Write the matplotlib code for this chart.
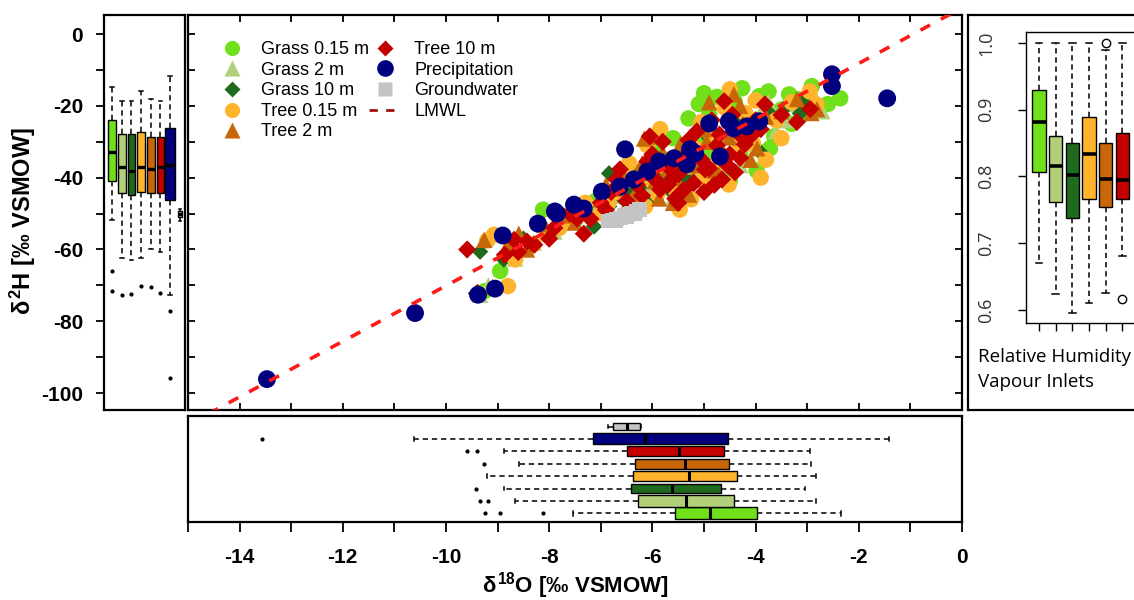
import matplotlib
matplotlib.use("Agg")
import matplotlib.pyplot as plt
from matplotlib.lines import Line2D
import numpy as np

plt.rcParams['font.family'] = ['Liberation Sans', 'DejaVu Sans']
plt.rcParams['mathtext.fontset'] = 'custom'
plt.rcParams['mathtext.rm'] = 'Liberation Sans:bold'
plt.rcParams['mathtext.it'] = 'Liberation Sans:bold'
plt.rcParams['mathtext.bf'] = 'Liberation Sans:bold'

# ---------------- data ----------------
series_names = ["Grass 0.15 m", "Grass 2 m", "Grass 10 m", "Tree 0.15 m",
                "Tree 2 m", "Tree 10 m", "Precipitation", "Groundwater"]
series_colors = ["#6fe01a", "#b2cf7a", "#1e6b1e", "#ffb42e",
                 "#c8660a", "#c40000", "#00007f", "#c4c4c4"]
series_markers = ['o', '^', 'D', 'o', '^', 'D', 'o', 's']
series_sizes = [140, 140, 70, 140, 140, 85, 165, 110]

grass015_x = [-9.25, -8.95, -8.12, -7.5, -7.1, -6.6, -6.4, -6.2, -5.95, -5.8, -5.6, -5.57, -5.4,
              -5.35, -5.3, -5.2, -5.1, -5.05, -5.0, -4.95, -4.9, -4.88, -4.75, -4.75, -4.6, -4.5,
              -4.45, -4.4, -4.3, -4.26, -4.2, -4.1, -3.98, -3.93, -3.85, -3.75, -3.72, -3.64,
              -3.5, -3.35, -3.3, -3.16, -3.1, -2.91, -2.6, -2.36]
grass015_y = [-71.6, -66.0, -48.9, -51.9, -46.5, -44.0, -47.0, -40.5, -31.8, -42.8, -29.0, -37.5, -40.9,
              -44.5, -23.5, -35.0, -19.5, -30.0, -16.5, -39.2, -22.5, -32.8, -28.5, -17.5, -36.0, -41.0,
              -20.5, -19.0, -33.5, -15.1, -23.5, -26.0, -38.0, -17.3, -33.0, -16.0, -31.8, -28.5,
              -21.0, -16.8, -25.0, -18.2, -22.5, -14.5, -19.5, -17.9]

grass2_x = [-9.34, -9.18, -8.66, -8.3, -7.9, -7.6, -7.2, -6.9, -6.8, -6.6, -6.4, -6.28, -6.1, -6.0,
            -5.9, -5.7, -5.6, -5.55, -5.4, -5.3, -5.15, -5.0, -4.9, -4.85, -4.7, -4.55, -4.42,
            -4.3, -4.3, -4.1, -3.9, -3.75, -3.6, -3.4, -3.3, -3.0, -2.82, -2.71]
grass2_y = [-72.6, -70.0, -62.5, -58.0, -55.0, -50.5, -49.0, -47.5, -45.0, -44.5, -46.0, -42.0, -44.2,
            -36.5, -40.0, -38.5, -45.5, -42.5, -36.9, -33.0, -39.0, -35.0, -41.5, -30.0, -37.0, -27.9,
            -32.5, -25.0, -36.5, -30.5, -22.0, -19.0, -27.0, -24.0, -19.5, -21.0, -18.6, -21.5]

grass10_x = [-9.42, -9.34, -8.88, -8.5, -8.1, -7.6, -7.13, -6.84, -6.84, -6.6, -6.42, -6.3, -6.2,
             -6.0, -5.85, -5.7, -5.62, -5.5, -5.45, -5.3, -5.1, -4.95, -4.9, -4.8, -4.67, -4.5,
             -4.4, -4.3, -4.0, -3.9, -3.7, -3.4, -3.14, -3.04]
grass10_y = [-72.3, -60.6, -62.8, -57.0, -54.0, -50.0, -53.6, -38.8, -48.0, -45.5, -44.7, -38.5, -42.0,
             -46.0, -40.0, -43.0, -38.1, -46.0, -36.0, -40.5, -34.0, -37.5, -29.0, -30.0, -35.0, -27.9,
             -23.5, -31.0, -25.0, -33.0, -22.5, -20.0, -22.1, -18.6]

tree015_x = [-9.2, -9.07, -8.8, -8.66, -8.3, -8.04, -7.8, -7.65, -7.3, -7.0, -6.85, -6.7, -6.55,
             -6.45, -6.3, -6.14, -6.1, -6.0, -5.9, -5.85, -5.7, -5.6, -5.55, -5.47, -5.3, -5.25,
             -5.15, -5.05, -5.0, -4.85, -4.8, -4.7, -4.6, -4.52, -4.5, -4.37, -4.3, -4.2, -4.05,
             -4.0, -3.9, -3.8, -3.6, -3.5, -3.3, -2.95, -2.82]
tree015_y = [-57.5, -55.9, -70.2, -62.8, -58.5, -55.9, -54.0, -52.2, -47.0, -50.0, -47.0, -44.0, -40.0,
             -36.0, -46.0, -48.0, -31.0, -41.0, -44.5, -26.5, -38.0, -34.5, -43.5, -48.9, -36.9, -46.0,
             -32.0, -24.5, -40.0, -29.0, -37.0, -34.5, -20.5, -41.9, -15.4, -27.2, -31.5, -22.0, -30.5,
             -18.5, -40.0, -35.0, -24.0, -29.0, -19.0, -16.0, -19.6]

tree2_x = [-9.26, -9.1, -8.8, -8.59, -8.43, -8.1, -7.7, -7.5, -7.35, -7.0, -6.9, -6.7, -6.6, -6.5,
           -6.33, -6.2, -6.16, -6.07, -5.95, -5.87, -5.8, -5.7, -5.6, -5.55, -5.45, -5.37, -5.29,
           -5.2, -5.1, -5.0, -4.95, -4.9, -4.8, -4.71, -4.6, -4.51, -4.42, -4.3, -4.25, -4.1,
           -3.97, -3.8, -3.5, -3.2, -2.92, -2.81]
tree2_y = [-57.3, -70.4, -58.5, -55.6, -60.0, -53.0, -50.5, -52.5, -49.5, -46.0, -42.0, -43.0, -38.5,
           -47.5, -44.4, -36.0, -29.1, -28.5, -41.0, -45.8, -33.0, -37.5, -47.0, -40.0, -30.5, -34.0,
           -44.7, -40.5, -36.5, -26.5, -30.0, -19.0, -38.0, -39.1, -33.5, -28.8, -16.8, -20.0, -25.0,
           -35.0, -31.8, -23.0, -21.5, -18.1, -22.0, -20.9]

tree10_x = [-9.59, -9.39, -8.86, -8.68, -8.6, -8.43, -8.29, -8.0, -7.9, -7.6, -7.46, -7.33, -7.2,
            -7.0, -6.9, -6.8, -6.7, -6.63, -6.5, -6.3, -6.2, -6.1, -6.05, -6.0, -5.95, -5.85,
            -5.8, -5.7, -5.7, -5.6, -5.56, -5.5, -5.49, -5.4, -5.3, -5.3, -5.2, -5.14, -5.05,
            -5.0, -4.98, -4.9, -4.85, -4.8, -4.75, -4.7, -4.65, -4.61, -4.55, -4.5, -4.45, -4.4,
            -4.32, -4.3, -4.21, -4.1, -4.0, -3.9, -3.82, -3.5, -3.2, -2.94]
tree10_y = [-60.0, -72.1, -61.5, -57.3, -60.7, -57.8, -58.7, -57.0, -54.0, -50.0, -51.4, -55.6, -51.5,
            -47.0, -49.0, -44.0, -40.5, -37.7, -46.5, -42.0, -45.0, -35.5, -28.5, -33.5, -40.5, -43.3,
            -30.0, -36.9, -42.0, -40.0, -45.8, -47.0, -39.0, -43.5, -33.0, -29.5, -41.5, -27.1, -35.0,
            -44.0, -37.7, -37.4, -24.0, -42.0, -31.0, -28.0, -40.5, -18.7, -36.5, -33.5, -22.5, -38.5,
            -27.9, -34.5, -30.7, -28.5, -24.0, -26.5, -19.6, -22.5, -24.5, -20.9]

precip_x = [-13.47, -10.60, -9.38, -9.05, -8.90, -8.22, -7.89, -7.85, -7.52, -7.33, -6.98, -6.63,
            -6.53, -6.36, -6.10, -5.87, -5.58, -5.33, -5.27, -5.23, -5.17, -4.90, -4.69, -4.52,
            -4.42, -4.17, -3.93, -2.52, -2.52, -1.45]
precip_y = [-96.1, -77.7, -72.6, -70.9, -56.1, -52.8, -49.4, -50.0, -47.5, -48.6, -43.9, -42.5,
            -32.1, -40.5, -38.3, -35.5, -34.6, -36.3, -32.1, -32.7, -33.2, -24.9, -34.1, -24.3,
            -26.3, -25.7, -24.3, -11.2, -14.5, -17.9]

ground_x = [-6.86, -6.78, -6.70, -6.62, -6.55, -6.48, -6.40, -6.32, -6.25, -6.72, -6.50, -6.35]
ground_y = [-52.1, -51.8, -51.5, -51.2, -50.6, -50.2, -49.8, -49.3, -48.8, -52.0, -51.0, -50.0]

lmwl_slope = 7.74
lmwl_intercept = 7.3

# d2H marginal box statistics (left panel)
H_whislo = [-51.9, -62.5, -62.8, -62.5, -60.0, -60.7, -72.6, -52.1]
H_q1 = [-40.9, -44.2, -44.7, -44.0, -44.4, -44.4, -46.2, -51.0]
H_med = [-32.8, -36.9, -38.1, -36.9, -37.5, -36.9, -36.5, -50.0]
H_q3 = [-23.9, -27.9, -27.9, -27.2, -28.8, -28.8, -26.2, -49.2]
H_whishi = [-14.7, -18.6, -18.6, -16.0, -18.1, -18.6, -11.6, -48.6]
H_fliers = [[-66.0, -71.6], [-72.6], [-72.3], [-70.2], [-70.4], [-72.1], [-77.2, -95.8], []]

# d18O marginal box statistics (bottom panel)
O_whislo = [-7.53, -8.66, -8.88, -9.20, -8.59, -8.88, -10.62, -6.86]
O_q1 = [-5.57, -6.28, -6.42, -6.37, -6.33, -6.50, -7.16, -6.76]
O_med = [-4.88, -5.34, -5.62, -5.30, -5.37, -5.49, -6.14, -6.50]
O_q3 = [-3.98, -4.42, -4.67, -4.37, -4.51, -4.61, -4.54, -6.25]
O_whishi = [-2.35, -2.82, -3.04, -2.82, -2.92, -2.94, -1.42, -6.23]
O_fliers = [[-9.25, -8.95, -8.12], [-9.34, -9.18], [-9.42], [], [-9.26], [-9.59, -9.39], [-13.56], []]

# relative humidity at vapour inlets (right panel, six inlets)
RH_whislo = [0.670, 0.624, 0.595, 0.611, 0.625, 0.681]
RH_q1 = [0.806, 0.762, 0.738, 0.766, 0.754, 0.766]
RH_med = [0.881, 0.816, 0.802, 0.833, 0.796, 0.795]
RH_q3 = [0.929, 0.860, 0.850, 0.889, 0.850, 0.865]
RH_whishi = [1.0, 1.0, 1.0, 1.0, 0.989, 1.0]
RH_fliers = [[], [], [], [], [1.0], [0.617]]

H_ticks = [0, -20, -40, -60, -80, -100]
O_ticks = [-14, -12, -10, -8, -6, -4, -2, 0]
RH_ticks = [0.6, 0.7, 0.8, 0.9, 1.0]

# ---------------- figure ----------------
W, H = 1134, 600
fig = plt.figure(figsize=(W / 100, H / 100), dpi=100)


def add_px(x0, y0, x1, y1):
    return fig.add_axes([x0 / W, 1 - y1 / H, (x1 - x0) / W, (y1 - y0) / H])


XLIM = (-15, 0)
YLIM = (-104.7, 5.3)
SPW = 1.6

# main scatter
ax = add_px(188, 15, 962, 410)
ax.set_xlim(*XLIM)
ax.set_ylim(*YLIM)
all_x = [grass015_x, grass2_x, grass10_x, tree015_x, tree2_x, tree10_x, precip_x, ground_x]
all_y = [grass015_y, grass2_y, grass10_y, tree015_y, tree2_y, tree10_y, precip_y, ground_y]
for i in range(8):
    ax.scatter(all_x[i], all_y[i], s=series_sizes[i], marker=series_markers[i],
               color=series_colors[i], edgecolors='none', zorder=2 + i)
lx = np.array(XLIM, dtype=float)
ax.plot(lx, lmwl_slope * lx + lmwl_intercept, color='#ff1a1a', lw=2.6,
        dashes=(3.0, 3.4), zorder=20)
ax.set_xticks(np.arange(-15, 1, 1))
ax.set_yticks(np.arange(-100, 1, 10))
ax.tick_params(direction='in', top=True, right=True, length=5, width=1.3,
               labelbottom=False, labelleft=False)
for s in ax.spines.values():
    s.set_linewidth(SPW)

handles = []
for i in range(6):
    handles.append(Line2D([], [], ls='none', marker=series_markers[i], color=series_colors[i],
                          ms=(series_sizes[i] ** 0.5) * 0.92, mec='none'))
handles.append(Line2D([], [], ls='none', marker='o', color=series_colors[6], ms=12, mec='none'))
handles.append(Line2D([], [], ls='none', marker='s', color=series_colors[7], ms=10, mec='none'))
handles.append(Line2D([], [], color='#a01010', lw=2, dashes=(3, 3)))
labels = series_names + ["LMWL"]
fig.legend(handles, labels, loc='upper left', bbox_to_anchor=(216 / W, 1 - 41 / H),
           ncol=2, frameon=False, fontsize=13, borderpad=0, borderaxespad=0,
           handlelength=1.75, handletextpad=0.75, columnspacing=0.0, labelspacing=0.2)


def style_boxes(bp, colors, lw_med=2.6):
    for b, c in zip(bp['boxes'], colors):
        b.set_facecolor(c)
        b.set_edgecolor('black')
        b.set_linewidth(1.0)
    for m in bp['medians']:
        m.set_color('black')
        m.set_linewidth(lw_med)
    for w in bp['whiskers']:
        w.set_color('black')
        w.set_linewidth(1.1)
        w.set_dashes((3.5, 2.5))
    for c in bp['caps']:
        c.set_color('black')
        c.set_linewidth(1.1)


def make_stats(lo, q1, med, q3, hi, fl):
    return [dict(whislo=lo[i], q1=q1[i], med=med[i], q3=q3[i], whishi=hi[i], fliers=fl[i])
            for i in range(len(med))]


# left panel: d2H
axl = add_px(104, 15, 185, 410)
stats_H = make_stats(H_whislo, H_q1, H_med, H_q3, H_whishi, H_fliers)
pos_l = np.arange(1, 9)
widths_l = [0.78, 0.78, 0.78, 0.78, 0.78, 0.78, 0.95, 0.45]
bp = axl.bxp(stats_H, positions=pos_l, widths=widths_l, patch_artist=True,
             capwidths=[w * 0.5 for w in widths_l],
             flierprops=dict(marker='o', ms=2.0, mfc='black', mec='black', ls='none'))
style_boxes(bp, series_colors, lw_med=2.4)
axl.set_xlim(0.15, 8.55)
axl.set_ylim(*YLIM)
axl.set_xticks([])
axl.set_yticks(np.arange(-100, 1, 10), minor=True)
axl.set_yticks(H_ticks, labels=[str(v) for v in H_ticks], fontweight='bold', fontsize=15)
axl.tick_params(axis='y', which='both', length=6, width=1.3, pad=9)
for s in axl.spines.values():
    s.set_linewidth(SPW)

# bottom panel: d18O
axb = add_px(188, 416, 962, 522)
stats_O = make_stats(O_whislo, O_q1, O_med, O_q3, O_whishi, O_fliers)
pos_b = np.arange(1, 9)
widths_b = [0.95, 0.9, 0.78, 0.82, 0.8, 0.8, 0.88, 0.6]
bp = axb.bxp(stats_O, positions=pos_b, widths=widths_b, patch_artist=True,
             orientation='horizontal', capwidths=[w * 0.4 for w in widths_b],
             flierprops=dict(marker='o', ms=2.0, mfc='black', mec='black', ls='none'))
style_boxes(bp, series_colors, lw_med=2.2)
axb.set_xlim(*XLIM)
axb.set_ylim(0.3, 8.85)
axb.set_yticks([])
axb.set_xticks(np.arange(-15, 1, 1), minor=True)
axb.set_xticks(O_ticks, labels=[str(v) for v in O_ticks], fontweight='bold', fontsize=15)
axb.tick_params(axis='x', which='both', length=7, width=1.3, pad=12)
for s in axb.spines.values():
    s.set_linewidth(SPW)

# right panel: relative humidity
axo = add_px(968, 15, 1150, 410)
axo.set_xticks([])
axo.set_yticks([])
for s in axo.spines.values():
    s.set_linewidth(SPW)
axo.text(978 / W, 1 - 357 / H, "Relative Humidity", transform=fig.transFigure,
         fontsize=13.5, family=['Open Sans', 'DejaVu Sans'], va='center', ha='left')
axo.text(978 / W, 1 - 382 / H, "Vapour Inlets", transform=fig.transFigure,
         fontsize=13.5, family=['Open Sans', 'DejaVu Sans'], va='center', ha='left')

axr = add_px(1026, 32, 1139, 323)
stats_R = make_stats(RH_whislo, RH_q1, RH_med, RH_q3, RH_whishi, RH_fliers)
bp = axr.bxp(stats_R, positions=np.arange(1, 7), widths=0.8, patch_artist=True,
             capwidths=0.4,
             flierprops=dict(marker='o', ms=6, mfc='none', mec='black', mew=1.0, ls='none'))
style_boxes(bp, series_colors[:6], lw_med=2.6)
axr.set_xlim(0.22, 7.0)
axr.set_ylim(0.5805, 1.0165)
axr.set_xticks(np.arange(1, 7), labels=[''] * 6)
axr.set_yticks(RH_ticks, labels=[f"{v:.1f}" for v in RH_ticks], rotation=90,
               va='center', fontsize=13, color='#333333', family=['Open Sans', 'DejaVu Sans'])
axr.tick_params(length=6, width=1.0, pad=16)
for s in axr.spines.values():
    s.set_linewidth(1.0)

# axis titles
fig.text(23 / W, 1 - 221 / H, r"$\delta^{2}$H [‰ VSMOW]", rotation=90, ha='center', va='center',
         fontsize=17, fontweight='bold')
fig.text(575 / W, 1 - 586 / H, r"$\delta^{18}$O [‰ VSMOW]", ha='center', va='center',
         fontsize=16, fontweight='bold')

fig.savefig("out.png", dpi=100)
